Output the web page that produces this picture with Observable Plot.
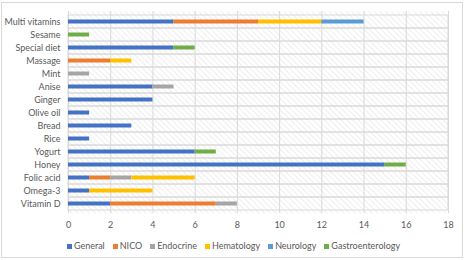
<!DOCTYPE html>
<html>
<head>
<meta charset="utf-8">
<script src="https://cdn.jsdelivr.net/npm/d3@7"></script>
<script src="https://cdn.jsdelivr.net/npm/@observablehq/plot@0.6"></script>
<style>
  body { margin: 0; background: #fff; font-family: Lato, "Open Sans", sans-serif; }
  #frame { position: absolute; left: 1px; top: 2px; width: 462px; height: 256px; border: 1px solid #d9d9d9; box-sizing: border-box; }
  #chart { position: absolute; left: 0; top: 0; }
  #legend { position: absolute; left: 0; top: 240px; width: 467px; display: flex; justify-content: center; gap: 8px; font-size: 9px; color: #595959; }
  #legend span.sw { display: inline-block; width: 5px; height: 5px; margin-right: 2px; vertical-align: 0px; }
</style>
</head>
<body>
<div id="frame"></div>
<div id="chart"></div>
<div id="legend"></div>
<script>
// Remedies, listed top to bottom
const categories = ["Multi vitamins", "Sesame", "Special diet", "Massage", "Mint", "Anise", "Ginger",
  "Olive oil", "Bread", "Rice", "Yogurt", "Honey", "Folic acid", "Omega-3", "Vitamin D"];

// Counts per specialty, aligned with categories
const general          = [5, 0, 5, 0, 0, 4, 4, 1, 3, 1, 6, 15, 1, 1, 2];
const nico             = [4, 0, 0, 2, 0, 0, 0, 0, 0, 0, 0, 0, 1, 0, 5];
const endocrine        = [0, 0, 0, 0, 1, 1, 0, 0, 0, 0, 0, 0, 1, 0, 1];
const hematology       = [3, 0, 0, 1, 0, 0, 0, 0, 0, 0, 0, 0, 3, 3, 0];
const neurology        = [2, 0, 0, 0, 0, 0, 0, 0, 0, 0, 0, 0, 0, 0, 0];
const gastroenterology = [0, 1, 1, 0, 0, 0, 0, 0, 0, 0, 1, 1, 0, 0, 0];

const series = ["General", "NICO", "Endocrine", "Hematology", "Neurology", "Gastroenterology"];
const colors = ["#4472C4", "#ED7D31", "#A5A5A5", "#FFC000", "#5B9BD5", "#70AD47"];
const xTicks = [0, 2, 4, 6, 8, 10, 12, 14, 16, 18];

const valuesBySeries = [general, nico, endocrine, hematology, neurology, gastroenterology];
const rows = [];
series.forEach((s, i) => {
  categories.forEach((c, j) => {
    const v = valuesBySeries[i][j];
    if (v > 0) rows.push({category: c, series: s, value: v});
  });
});

const fig = Plot.plot({
  width: 467,
  height: 236,
  marginLeft: 68,
  marginRight: 19,
  marginTop: 11,
  marginBottom: 23,
  style: {fontFamily: "Lato, 'Open Sans', sans-serif", fontSize: "9px", color: "#595959", background: "transparent"},
  x: {domain: [xTicks[0], xTicks[xTicks.length - 1]], ticks: xTicks, tickSize: 0, tickPadding: 8, label: null},
  y: {domain: categories, padding: 0, tickSize: 0, tickPadding: 8, label: null},
  color: {domain: series, range: colors},
  marks: [
    Plot.frame({fill: "url(#hatch)", stroke: null}),
    Plot.barX(categories, {y: d => d, x1: xTicks[0], x2: xTicks[xTicks.length - 1], fill: "none", stroke: "#d9d9d9", strokeWidth: 1}),
    Plot.ruleX(xTicks, {stroke: "#d9d9d9", strokeWidth: 1}),
    Plot.barX(rows, Plot.stackX({y: "category", x: "value", fill: "series", insetTop: 4.5, insetBottom: 4.5}))
  ]
});

// diagonal hatch behind the plot area
const defs = d3.select(fig).insert("defs", ":first-child");
const pat = defs.append("pattern")
  .attr("id", "hatch")
  .attr("patternUnits", "userSpaceOnUse")
  .attr("width", 4).attr("height", 4)
  .attr("patternTransform", "rotate(-45)");
pat.append("rect").attr("width", 4).attr("height", 4).attr("fill", "#ffffff");
pat.append("line").attr("x1", 0).attr("y1", 0).attr("x2", 0).attr("y2", 4)
  .attr("stroke", "#e6e6e6").attr("stroke-width", 1.3);

document.getElementById("chart").appendChild(fig);

const legend = d3.select("#legend");
series.forEach((s, i) => {
  const item = legend.append("div");
  item.append("span").attr("class", "sw").style("background", colors[i]);
  item.append("span").text(s);
});
</script>
</body>
</html>
